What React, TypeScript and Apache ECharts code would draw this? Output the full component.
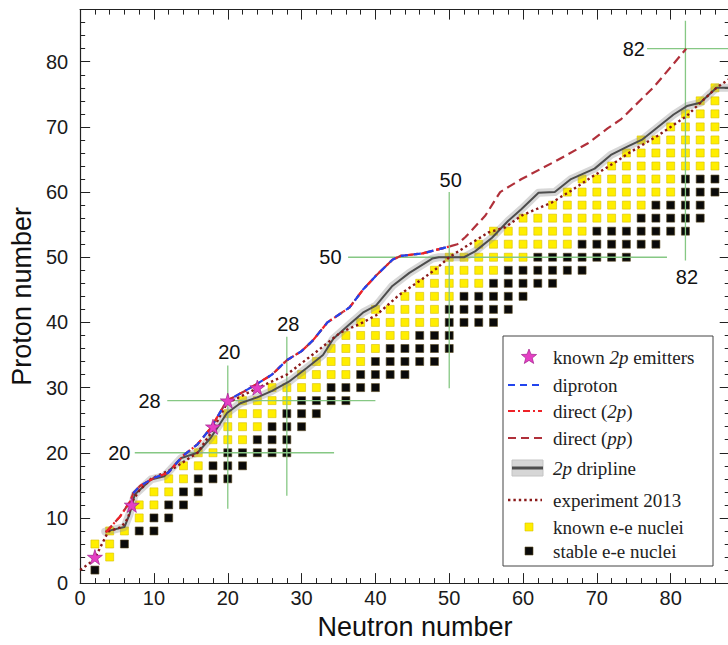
import React, { useEffect, useRef } from 'react';
import * as echarts from 'echarts';

// ---- even-even nuclei (rows of even proton number Z) ----
const evenZ = [2, 4, 6, 8, 10, 12, 14, 16, 18, 20, 22, 24, 26, 28, 30, 32, 34, 36, 38, 40, 42, 44, 46, 48, 50, 52, 54, 56, 58, 60, 62, 64, 66, 68, 70, 72, 74, 76];
const firstKnownN = [2, 4, 2, 4, 8, 8, 10, 12, 14, 16, 18, 20, 20, 22, 26, 30, 32, 34, 36, 38, 40, 44, 46, 48, 50, 54, 56, 60, 64, 66, 68, 72, 74, 76, 80, 82, 84, 86];
const firstStableN: (number | null)[] = [2, null, 6, 8, 10, 12, 14, 16, 18, 20, 24, 26, 28, 30, 34, 38, 40, 42, 46, 50, 50, 52, 56, 58, 62, 68, 70, 76, 78, 82, 82, null, null, null, null, null, null, null];
const lastShownN = [2, 4, 6, 10, 12, 14, 16, 20, 22, 28, 28, 30, 32, 36, 40, 44, 48, 50, 50, 56, 58, 60, 64, 68, 74, 78, 82, 84, 84, 86, 86, 86, 86, 86, 86, 86, 86, 86];

// ---- known 2p emitters ----
const emitterN = [2, 7, 18, 20, 24];
const emitterZ = [4, 12, 24, 28, 30];

// ---- theory curves ----
const lowDirectN = [3.5, 5.4, 6.8];
const lowDirectZ = [7.8, 10.2, 12.6];
const diprotonN = [7.2, 8.1, 10.1, 11.9, 13.9, 15.9, 17.7, 19.9, 22.2, 24.0, 26.0, 28.0, 30.0, 31.5, 33.5, 36.5, 38.3, 40.1, 42.3, 43.4, 46.4, 50.2];
const diprotonZ = [13.8, 14.9, 16.2, 16.9, 19.5, 21.3, 23.8, 28.0, 29.4, 30.6, 32.0, 34.2, 35.6, 37.2, 40.0, 42.3, 45.0, 47.2, 49.6, 50.2, 50.6, 51.7];
const ppHighN = [51.1, 52.2, 54.9, 56.9, 59.8, 64.5, 68.8, 71.5, 73.3, 77.7, 80.4, 82.1];
const ppHighZ = [52.0, 53.1, 56.4, 60.0, 62.0, 64.8, 67.5, 69.8, 71.2, 76.1, 79.7, 82.0];

const driplineN = [3.4, 6.0, 6.7, 7.4, 9.6, 11.4, 13.7, 15.9, 17.7, 19.9, 21.7, 24.0, 26.0, 28.4, 30.7, 32.9, 34.3, 36.5, 38.3, 40.1, 42.3, 44.6, 47.7, 48.6, 52.0, 53.5, 55.8, 58.0, 59.8, 62.1, 64.3, 66.5, 69.7, 71.9, 74.2, 76.2, 78.2, 80.4, 82.2, 84.0, 86.2, 88.0];
const driplineZ = [7.9, 8.6, 10.6, 13.6, 15.9, 16.4, 19.2, 20.0, 22.3, 26.1, 27.6, 28.5, 29.5, 31.0, 33.0, 35.0, 37.5, 39.7, 41.5, 42.6, 45.6, 47.6, 49.8, 50.0, 50.0, 50.9, 53.0, 55.6, 57.4, 59.9, 60.0, 62.0, 63.6, 65.7, 67.0, 68.1, 69.9, 71.9, 73.2, 73.7, 76.0, 76.0];

const experimentN = [0, 1.9, 3.8, 5.6, 6.5, 7.0, 8.0, 9.6, 12.8, 15.9, 17.7, 19.9, 24.0, 28.0, 32.0, 35.2, 38.3, 40.1, 43.2, 46.4, 48.2, 50.0, 52.2, 55.3, 57.6, 59.8, 63.9, 66.5, 69.7, 72.8, 74.2, 78.2, 82.2, 84.2, 86.2, 88.0];
const experimentZ = [2.0, 3.6, 7.9, 8.6, 10.0, 12.4, 14.2, 16.0, 17.7, 20.0, 23.0, 27.6, 29.9, 32.0, 35.5, 38.4, 40.0, 41.1, 44.2, 46.7, 48.2, 50.0, 51.6, 53.8, 54.6, 56.4, 58.4, 60.2, 62.6, 64.8, 65.9, 68.6, 71.7, 73.9, 76.0, 77.4];

// ---- magic numbers ----
const magicNumbers = [20, 28, 50, 82];
const magicHLineN = [[7.4, 34.4], [11.8, 40.0], [36.3, 79.5], [76.8, 88.0]];
const magicVLineZ = [[11.4, 33.4], [13.4, 37.8], [29.9, 60.0], [49.5, 86.3]];
const magicHLabelN = [5.3, 9.4, 33.9, 75.0];
const magicVLabelZ = [35.4, 39.7, 61.9, 47.0];

const zip = (a: number[], b: number[]) => a.map((v, i) => [v, b[i]]);

const STAR = 'path://M50,0 L61,35 L98,35 L68,57 L79,91 L50,70 L21,91 L32,57 L2,35 L39,35 Z';
const SANS = '"Liberation Sans", Arial, Helvetica, sans-serif';
const SERIF = '"Liberation Serif", "Times New Roman", serif';

function starPoints(cx: number, cy: number, R: number, r: number) {
  const pts: number[][] = [];
  for (let k = 0; k < 10; k++) {
    const a = -Math.PI / 2 + (k * Math.PI) / 5;
    const rad = k % 2 === 0 ? R : r;
    pts.push([cx + rad * Math.cos(a), cy + rad * Math.sin(a)]);
  }
  return pts;
}

function buildOption() {
  const yellow: number[][] = [];
  const black: number[][] = [];
  evenZ.forEach((z, i) => {
    const fs = firstStableN[i];
    for (let n = firstKnownN[i]; n <= lastShownN[i]; n += 2) {
      if (fs !== null && n >= fs) black.push([n, z]);
      else yellow.push([n, z]);
    }
  });

  const axisBase = { type: 'value', min: 0, max: 88, splitLine: { show: false } };
  const frameLine = { show: true, onZero: false, lineStyle: { color: '#222', width: 1.2 } };
  const major = { show: true, inside: true, length: 10, lineStyle: { color: '#222', width: 1 } };
  const minor = { show: true, inside: true, length: 5, lineStyle: { color: '#222', width: 1 } };

  const xAxis = [
    {
      ...axisBase, position: 'bottom', interval: 10, axisLine: frameLine, axisTick: major,
      axisLabel: { show: true, margin: 5, fontSize: 20, color: '#1a1a1a', fontFamily: SANS, showMaxLabel: false },
      name: 'Neutron number', nameLocation: 'middle', nameGap: 29,
      nameTextStyle: { fontSize: 27, color: '#111', fontFamily: SANS, padding: [0, 0, 0, 20] },
    },
    { ...axisBase, position: 'bottom', interval: 2, axisLine: { show: false, onZero: false }, axisTick: minor, axisLabel: { show: false } },
    { ...axisBase, position: 'top', interval: 10, axisLine: frameLine, axisTick: major, axisLabel: { show: false } },
    { ...axisBase, position: 'top', interval: 2, axisLine: { show: false, onZero: false }, axisTick: minor, axisLabel: { show: false } },
  ];
  const yAxis = [
    {
      ...axisBase, position: 'left', interval: 10, axisLine: frameLine, axisTick: major,
      axisLabel: { show: true, margin: 12, fontSize: 20, color: '#1a1a1a', fontFamily: SANS, showMaxLabel: false },
      name: 'Proton number', nameLocation: 'middle', nameGap: 39,
      nameTextStyle: { fontSize: 27, color: '#111', fontFamily: SANS },
    },
    { ...axisBase, position: 'left', interval: 2, axisLine: { show: false, onZero: false }, axisTick: minor, axisLabel: { show: false } },
    { ...axisBase, position: 'right', interval: 10, axisLine: frameLine, axisTick: major, axisLabel: { show: false } },
    { ...axisBase, position: 'right', interval: 2, axisLine: { show: false, onZero: false }, axisTick: minor, axisLabel: { show: false } },
  ];

  const lineSeries = (name: string, data: number[][], lineStyle: any, z: number, smooth: number | boolean = false) => ({
    type: 'line', name, data, symbol: 'none', smooth, z, silent: true, lineStyle, xAxisIndex: 0, yAxisIndex: 0,
  });

  const green = { color: '#86c884', width: 1.3, type: 'solid' };
  const magicSeries: any[] = [];
  magicNumbers.forEach((m, i) => {
    magicSeries.push(lineSeries('magicH' + m, [[magicHLineN[i][0], m], [magicHLineN[i][1], m]], green, 3));
    magicSeries.push(lineSeries('magicV' + m, [[m, magicVLineZ[i][0]], [m, magicVLineZ[i][1]]], green, 3));
  });
  const magicLabels: any[] = [];
  magicNumbers.forEach((m, i) => {
    magicLabels.push([magicHLabelN[i], m, String(m)]);
    magicLabels.push([m + 0.2, magicVLabelZ[i], String(m)]);
  });

  const pp = [...zip(lowDirectN, lowDirectZ), ...zip(diprotonN, diprotonZ), ...zip(ppHighN, ppHighZ)];
  const d2p = [...zip(lowDirectN, lowDirectZ), ...zip(diprotonN, diprotonZ)];

  const series: any[] = [
    {
      type: 'scatter', name: 'known e-e nuclei', data: yellow, symbol: 'rect', symbolSize: 8, z: 1, silent: true,
      itemStyle: { color: '#FFEE00', borderColor: '#d8c000', borderWidth: 0.6, opacity: 1 },
    },
    {
      type: 'scatter', name: 'stable e-e nuclei', data: black, symbol: 'rect', symbolSize: 8, z: 2, silent: true,
      itemStyle: { color: '#0a0a0a', borderColor: '#5a4a20', borderWidth: 0.6, opacity: 1 },
    },
    ...magicSeries,
    lineSeries('band', zip(driplineN, driplineZ), { color: 'rgba(150,150,150,0.38)', width: 8, cap: 'round', join: 'round' }, 4),
    lineSeries('2p dripline', zip(driplineN, driplineZ), { color: '#4d4d4d', width: 2 }, 5),
    lineSeries('experiment 2013', zip(experimentN, experimentZ), { color: '#8b1a1a', width: 2.4, type: [2.4, 3] }, 6),
    lineSeries('direct (pp)', pp, { color: '#b0303a', width: 2.2, type: [9, 5] }, 7),
    lineSeries('direct (2p)', d2p, { color: '#ee2228', width: 2.2, type: [8, 3, 2, 3] }, 8),
    lineSeries('diproton', zip(diprotonN, diprotonZ), { color: '#2244ee', width: 2.2, type: [7, 6] }, 9),
    {
      type: 'scatter', name: 'known 2p emitters', data: zip(emitterN, emitterZ), symbol: STAR, symbolSize: 15, z: 10, silent: true,
      itemStyle: { color: '#e53fc4', borderColor: '#a0208c', borderWidth: 0.7, opacity: 1 },
    },
    {
      type: 'scatter', name: 'magic labels', data: magicLabels, symbol: 'circle', symbolSize: 1, z: 11, silent: true,
      itemStyle: { color: '#ffffff', opacity: 0 },
      label: {
        show: true, position: 'inside', fontSize: 20, color: '#111111', fontFamily: SANS,
        textBorderWidth: 0, opacity: 1,
        formatter: (p: any) => p.value[2],
      },
    },
  ];

  // legend (drawn as graphic)
  const LX = 553;
  const rowsY = [357, 385, 411, 438, 468, 500, 527, 551];
  const r = (t: string) => `{r|${t}}`;
  const it = (t: string) => `{i|${t}}`;
  const rich = {
    r: { fontFamily: SERIF, fontSize: 19, fill: '#222' },
    i: { fontFamily: SERIF, fontSize: 19, fill: '#222', fontStyle: 'italic' },
  };
  const texts = [
    r('known ') + it('2p') + r(' emitters'),
    r('diproton'),
    r('direct (') + it('2p') + r(')'),
    r('direct (') + it('pp') + r(')'),
    it('2p') + r(' dripline'),
    r('experiment 2013'),
    r('known e-e nuclei'),
    r('stable e-e nuclei'),
  ];
  const gl = (y: number, stroke: string, dash: any, w = 2.2) => ({
    type: 'line', shape: { x1: 508, y1: y, x2: 542, y2: y },
    style: { stroke, lineWidth: w, lineDash: dash },
  });
  const graphic: any[] = [
    {
      type: 'group', z: 100,
      children: [
        { type: 'rect', shape: { x: 503, y: 336, width: 210, height: 230 }, style: { fill: '#fff', stroke: '#444', lineWidth: 1 } },
        { type: 'polygon', shape: { points: starPoints(529, rowsY[0], 8, 3.4) }, style: { fill: '#e53fc4', stroke: '#a0208c', lineWidth: 0.7 } },
        gl(rowsY[1], '#2244ee', [7, 5]),
        gl(rowsY[2], '#ee2228', [7, 3, 2, 3]),
        gl(rowsY[3], '#b0303a', [8, 5]),
        { type: 'rect', shape: { x: 512, y: rowsY[4] - 8, width: 31, height: 16 }, style: { fill: '#d6d6d6', stroke: '#c4c4c4', lineWidth: 1 } },
        { type: 'line', shape: { x1: 512, y1: rowsY[4], x2: 543, y2: rowsY[4] }, style: { stroke: '#4d4d4d', lineWidth: 3 } },
        gl(rowsY[5], '#8b1a1a', [2.4, 3], 2.4),
        { type: 'rect', shape: { x: 525, y: rowsY[6] - 4, width: 8, height: 8 }, style: { fill: '#FFEE00', stroke: '#d8c000', lineWidth: 0.6 } },
        { type: 'rect', shape: { x: 525, y: rowsY[7] - 4, width: 8, height: 8 }, style: { fill: '#0a0a0a', stroke: '#5a4a20', lineWidth: 0.6 } },
        ...texts.map((t, i) => ({
          type: 'text', x: LX, y: rowsY[i],
          style: { text: t, rich, verticalAlign: 'middle', align: 'left', fill: '#222', fontFamily: SERIF, fontSize: 19 },
        })),
      ],
    },
  ];

  return {
    animation: false,
    backgroundColor: '#fff',
    grid: { left: 75, right: 4.28, top: 9.6, bottom: 59, containLabel: false },
    xAxis,
    yAxis,
    series,
    graphic,
  };
}

export default function App() {
  const ref = useRef<HTMLDivElement>(null);
  useEffect(() => {
    if (!ref.current) return;
    const chart = echarts.init(ref.current, null, { renderer: 'svg' });
    chart.setOption(buildOption() as any);
    return () => chart.dispose();
  }, []);
  return (
    <div style={{ position: 'fixed', left: 0, top: 0, width: 728, height: 645, overflow: 'hidden', background: '#fff' }}>
      <div ref={ref} style={{ width: 734, height: 645 }} />
    </div>
  );
}
